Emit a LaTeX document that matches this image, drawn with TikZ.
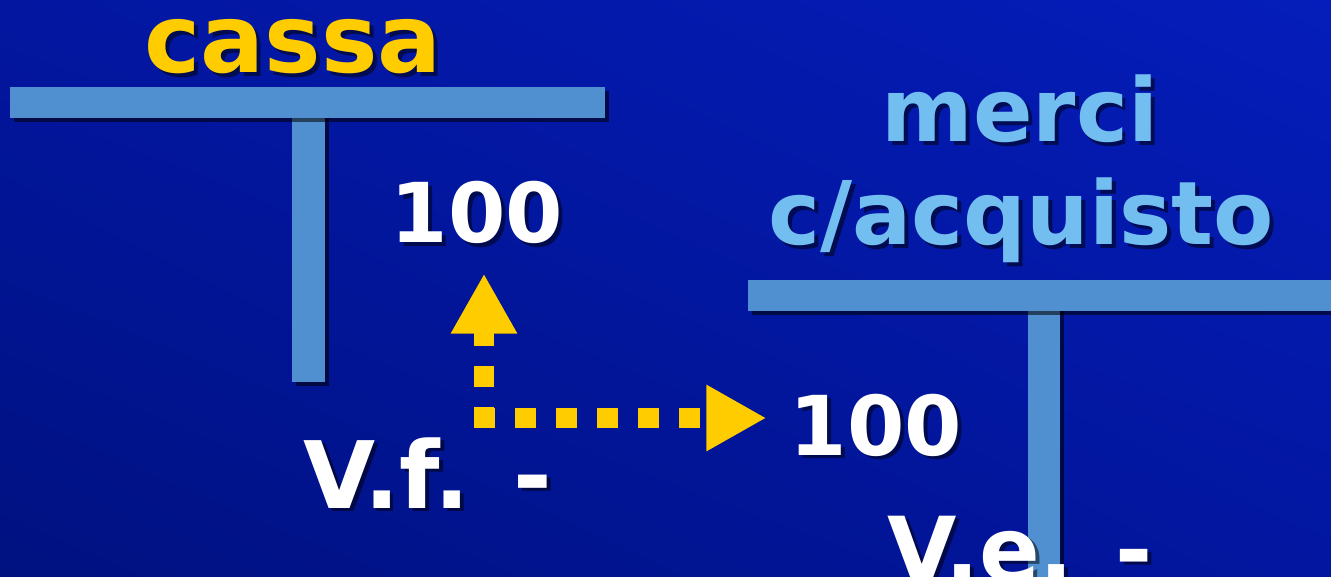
\documentclass[tikz,border=0pt]{standalone}
\usepackage{fontspec}
\setmainfont{DejaVu Sans}
\usetikzlibrary{arrows.meta,shadows,shadings}

\definecolor{bgdark}{RGB}{0,17,128}
\definecolor{bgmid}{RGB}{2,22,160}
\definecolor{bglight}{RGB}{5,29,186}
\definecolor{barblue}{RGB}{80,143,208}
\definecolor{cassayellow}{RGB}{255,204,0}
\definecolor{merciblue}{RGB}{115,190,240}

\tikzset{
  txt/.style={inner sep=0pt, anchor=base, text=white},
  txtsh/.style={txt, text=black, opacity=0.5, xshift=2.2pt, yshift=-2.2pt},
  titlefont/.style={font=\bfseries\fontsize{54}{60}\selectfont},
  accfont/.style={font=\bfseries\fontsize{50}{58}\selectfont},
  numfont/.style={font=\bfseries\fontsize{47}{54}\selectfont},
  varfont/.style={font=\bfseries\fontsize{53}{60}\selectfont},
  bar/.style={fill=barblue, drop shadow={shadow xshift=2.5pt, shadow yshift=-2.5pt, opacity=0.55, fill=black}},
  flow/.style={draw=cassayellow, line width=0.4cm, dash pattern=on 0.42cm off 0.4cm,
    -{Triangle[length=1.2cm,width=1.24cm]}},
  flowsh/.style={flow, draw=black, opacity=0.45, xshift=2.2pt, yshift=-2.2pt}
}

\begin{document}
\begin{tikzpicture}[x=0.02cm,y=-0.02cm]

    % Background
    \useasboundingbox (0,0) rectangle (1331,577);
    \clip (0,0) rectangle (1331,577);
    \shade[upper left=bgmid, upper right=bglight, lower left=bgdark, lower right=bgmid]
      (0,0) rectangle (1331,577);

    % Account cassa
    \fill[bar] (292,110) rectangle (325,382);
    \fill[bar] (10,87) rectangle (605,118);

    % Account merci c/acquisto
    \fill[bar] (1028,300) rectangle (1060,590);
    \fill[bar] (748,280) rectangle (1345,311);

    % Titles
    \node[txtsh, titlefont] (cassa sh) at (293,73) {cassa};
    \node[txt, titlefont, text=cassayellow] (cassa) at (293,73) {cassa};
    \node[txtsh, accfont] (merci sh) at (1020,142) {merci};
    \node[txt, accfont, text=merciblue] (merci) at (1020,142) {merci};
    \node[txtsh, accfont] (acquisto sh) at (1021,245) {c/acquisto};
    \node[txt, accfont, text=merciblue] (acquisto) at (1021,245) {c/acquisto};

    % Amounts
    \node[txtsh, numfont] (num1 sh) at (477,243) {100};
    \node[txt, numfont] (num1) at (477,243) {100};
    \node[txtsh, numfont] (num2 sh) at (876,455) {100};
    \node[txt, numfont] (num2) at (876,455) {100};

    % Variations
    \node[txtsh, varfont] (vf sh) at (428,508) {V.f. -};
    \node[txt, varfont] (vf) at (428,508) {V.f. -};
    \node[txtsh, varfont, font=\bfseries\fontsize{51}{60}\selectfont] (ve sh) at (1020,581) {V.e. -};
    \node[txt, varfont, font=\bfseries\fontsize{51}{60}\selectfont] (ve) at (1020,581) {V.e. -};

    % Flows
    \coordinate (vbase) at (484,428);
    \coordinate (hbase) at (474,418);
    \draw[flowsh, shorten >=0.58cm] (vbase) -- (vbase |- num1.south);
    \draw[flowsh, shorten >=0.46cm] (hbase) -- (hbase -| num2.west);
    \draw[flow, shorten >=0.58cm] (vbase) -- (vbase |- num1.south);
    \draw[flow, shorten >=0.46cm] (hbase) -- (hbase -| num2.west);

\end{tikzpicture}
\end{document}
